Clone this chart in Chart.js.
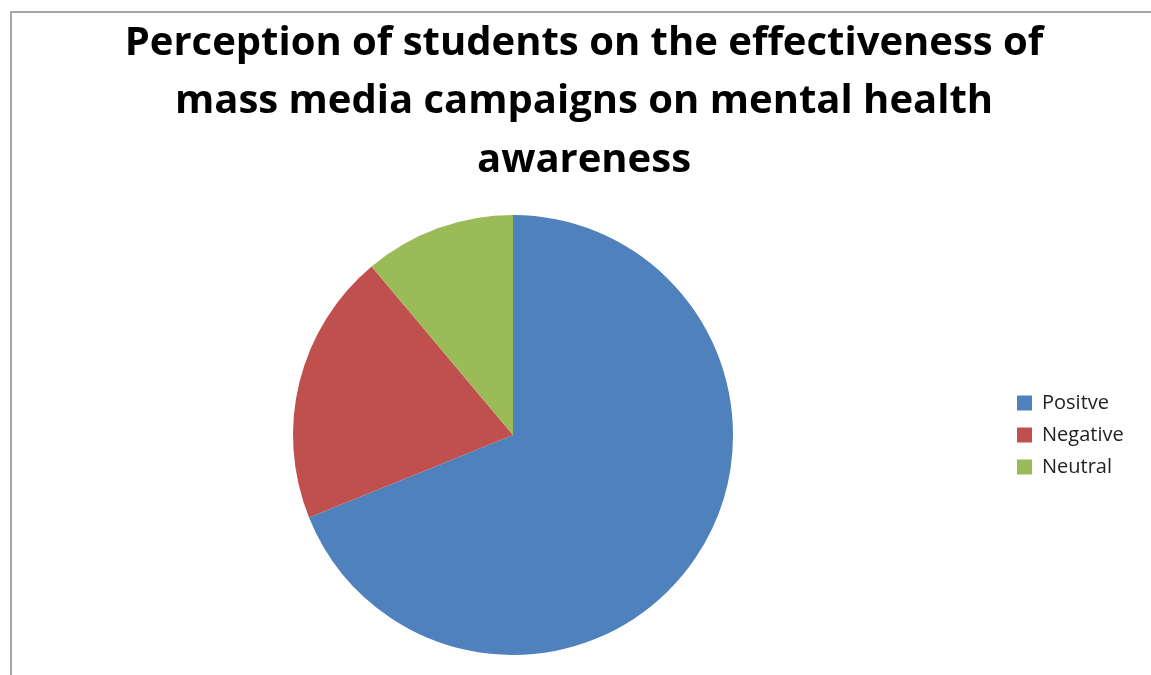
<!DOCTYPE html>
<html>
<head>
<meta charset="utf-8">
<title>Perception of students</title>
<script src="https://cdn.jsdelivr.net/npm/chart.js@4.4.1/dist/chart.umd.min.js"></script>
<style>
  html, body { margin: 0; padding: 0; background: #fff; overflow: hidden; }
  #wrap { position: relative; width: 1151px; height: 675px; }
  #frame {
    position: absolute; left: 10px; top: 11px; width: 1200px; height: 700px;
    border-left: 2px solid #a6a6a6; border-top: 2px solid #a6a6a6;
    pointer-events: none;
  }
  canvas { position: absolute; left: 0; top: 0; }
</style>
</head>
<body>
<div id="wrap">
  <canvas id="pieChart" width="1151" height="675"></canvas>
  <div id="frame"></div>
</div>
<script>
const categories = ['Positve', 'Negative', 'Neutral'];
const responses = [62, 18, 10];
const sliceColors = ['#4f81bd', '#c0504d', '#9bbb59'];
const titleLines = [
  'Perception of students on the effectiveness of',
  'mass media campaigns on mental health',
  'awareness'
];

// give the side legend a fixed width so the pie sits left of centre
const legendWidth = {
  id: 'legendWidth',
  beforeInit(chart) {
    const fit = chart.legend.fit;
    chart.legend.fit = function () {
      fit.call(this);
      this.width = 142;
    };
  }
};

const ctx = document.getElementById('pieChart').getContext('2d');

const pieChart = new Chart(ctx, {
  type: 'pie',
  data: {
    labels: categories,
    datasets: [{
      data: responses,
      backgroundColor: sliceColors,
      borderWidth: 0
    }]
  },
  options: {
    responsive: false,
    animation: false,
    layout: {
      padding: { left: 21, right: 4, top: 0, bottom: 20 }
    },
    plugins: {
      title: {
        display: true,
        text: titleLines,
        color: '#000',
        font: { family: 'Open Sans', size: 40, weight: 'bold', lineHeight: 58.5 / 40 },
        padding: { top: 14, bottom: 25.5 }
      },
      legend: {
        position: 'right',
        fullSize: false,
        labels: {
          boxWidth: 15,
          boxHeight: 15,
          padding: 12,
          color: '#222',
          font: { family: 'Open Sans', size: 20 }
        }
      },
      tooltip: { enabled: false }
    }
  },
  plugins: [legendWidth]
});
</script>
</body>
</html>
